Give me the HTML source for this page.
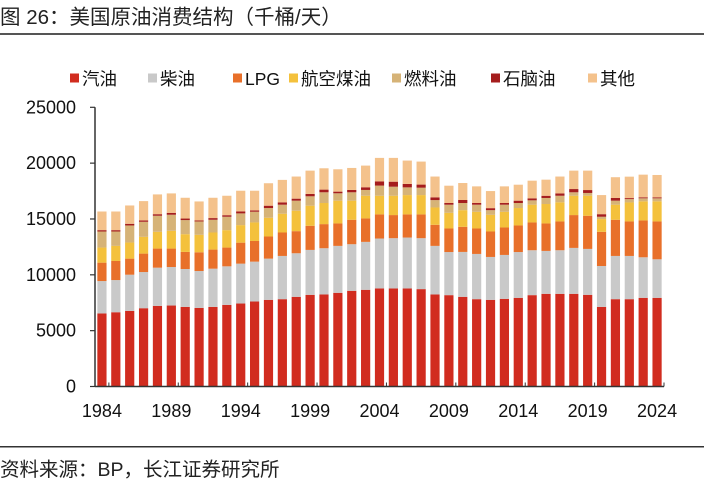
<!DOCTYPE html>
<html><head><meta charset="utf-8"><style>
body{margin:0;background:#fff;width:704px;height:490px;overflow:hidden;font-family:"Liberation Sans","Noto Sans CJK SC",sans-serif;}
</style></head><body>
<svg width="704" height="490" xmlns="http://www.w3.org/2000/svg" font-family="Liberation Sans, Noto Sans CJK SC, sans-serif">
<text x="0" y="24" font-size="20.5" fill="#222">图 26：美国原油消费结构（千桶/天）</text>
<rect x="0" y="33" width="704" height="2" fill="#555"/>
<g id="legend"></g>
<g id="yaxis"></g>
<g id="bars"></g>
<g id="xaxis"></g>
<rect x="0" y="446" width="704" height="1.5" fill="#333"/>
<text x="0" y="476" font-size="19.5" fill="#222">资料来源：BP，长江证券研究所</text>
</svg>
<script>
const years=[];for(let y=1984;y<=2024;y++)years.push(y);
const seriesNames=['汽油','柴油','LPG','航空煤油','燃料油','石脑油','其他'];
const gasoline=[6540,6650,6770,7010,7220,7250,7130,7040,7130,7310,7430,7610,7760,7820,8030,8210,8240,8390,8570,8660,8780,8780,8780,8720,8240,8180,8030,7820,7760,7850,7940,8180,8300,8300,8300,8210,7130,7820,7820,7940,7940];
const diesel=[2900,2880,3240,3240,3420,3450,3390,3300,3420,3450,3570,3570,3690,3870,3900,4020,4140,4200,4170,4290,4470,4500,4560,4560,4350,3860,4020,4050,3840,3930,4100,4020,3840,3900,4110,4110,3660,3870,3870,3630,3450];
const lpg=[1650,1710,1440,1650,1710,1650,1530,1680,1710,1680,1880,1850,1980,2100,1980,2160,2160,2010,2190,2100,2160,2070,2070,2130,1890,2110,2250,2280,2280,2460,2380,2490,2460,2580,2940,2970,3060,3240,3090,3300,3390];
const jet=[1350,1350,1440,1500,1500,1590,1590,1560,1530,1560,1570,1660,1680,1680,1830,1800,1890,2040,1710,2030,1670,1730,1730,1730,1550,1400,1490,1490,1490,1400,1560,1590,1740,1710,1730,1790,1140,1350,1700,1710,1800];
const fuelOil=[1440,1290,1530,1350,1440,1440,1260,1200,1140,1200,1050,960,870,810,900,840,960,660,750,520,910,810,690,660,660,730,640,640,420,640,450,390,540,590,310,250,210,360,300,270,270];
const naphtha=[120,120,150,120,140,170,140,90,150,140,180,120,210,210,180,210,240,150,210,240,380,450,310,280,250,150,270,150,180,150,210,180,200,210,290,260,230,240,90,90,90];
const other=[1670,1670,1640,1730,1770,1740,1860,1700,1820,1740,1850,1760,2010,2010,1980,2090,1910,2000,1970,1940,2100,2130,2090,2060,1860,1550,1520,1490,1530,1490,1430,1580,1440,1510,1650,1740,1710,1860,1920,2030,2000];
const yTicks=[0,5000,10000,15000,20000,25000];
const xLabels=[1984,1989,1994,1999,2004,2009,2014,2019,2024];
const series=[gasoline,diesel,lpg,jet,fuelOil,naphtha,other];
const colors=['#d12c1f','#c9c9c9','#e8702a','#f4c13c','#d6b377','#a51d1d','#f4c28c'];
const NS='http://www.w3.org/2000/svg';
const X0=95,X1=664,Y0=386.5,Y1=107.3,YMAX=25000;
const yS=v=>Y0-(v/YMAX)*(Y0-Y1);
const pitch=(X1-X0)/years.length;
const xC=i=>X0+pitch*(i+0.5);
function mk(tag,attrs,parent){const e=document.createElementNS(NS,tag);for(const k in attrs)e.setAttribute(k,attrs[k]);parent.appendChild(e);return e;}
const gB=document.getElementById('bars'),gY=document.getElementById('yaxis'),gX=document.getElementById('xaxis'),gL=document.getElementById('legend');
let ax=mk('line',{x1:X0,x2:X0,y1:Y1,y2:Y0,stroke:'#333','stroke-width':1.5},gY);


yTicks.forEach(v=>{
 const t=mk('line',{x1:X0-5,x2:X0,y1:yS(v),y2:yS(v),stroke:'#333','stroke-width':1.2},gY);
 
 
 const l=mk('text',{x:76,y:yS(v)+6,'text-anchor':'end','font-size':18,fill:'#111'},gY);
 l.textContent=v;
 
 
});
years.forEach((yr,i)=>{
 let cum=0;
 series.forEach((s,k)=>{
  const v=s[i];
  const r=mk('rect',{x:xC(i)-4.6,width:9.2,y:yS(cum+v),height:yS(cum)-yS(cum+v),fill:colors[k]},gB);
  
  
  cum+=v;
 });
});
let xa=mk('line',{x1:X0,x2:X1,y1:Y0,y2:Y0,stroke:'#333','stroke-width':1.5},gX);


xLabels.forEach(yr=>{
 const i=years.indexOf(yr);
 const t=mk('line',{x1:xC(i)+pitch/2,x2:xC(i)+pitch/2,y1:Y0-4,y2:Y0,stroke:'#333','stroke-width':1},gX);
 
 
 const l=mk('text',{x:xC(i),y:417,'text-anchor':'middle','font-size':18,fill:'#111'},gX);
 l.textContent=yr;
 
 
});
const lx=[70,148,233,289,392,491,588];
seriesNames.forEach((n,k)=>{
 const sq=mk('rect',{x:lx[k],y:73.5,width:9,height:9,fill:colors[k]},gL);
 
 
 const t=mk('text',{x:lx[k]+12,y:85,'font-size':17.5,fill:'#111'},gL);
 t.textContent=n;
 
 
});
</script>
</body></html>
